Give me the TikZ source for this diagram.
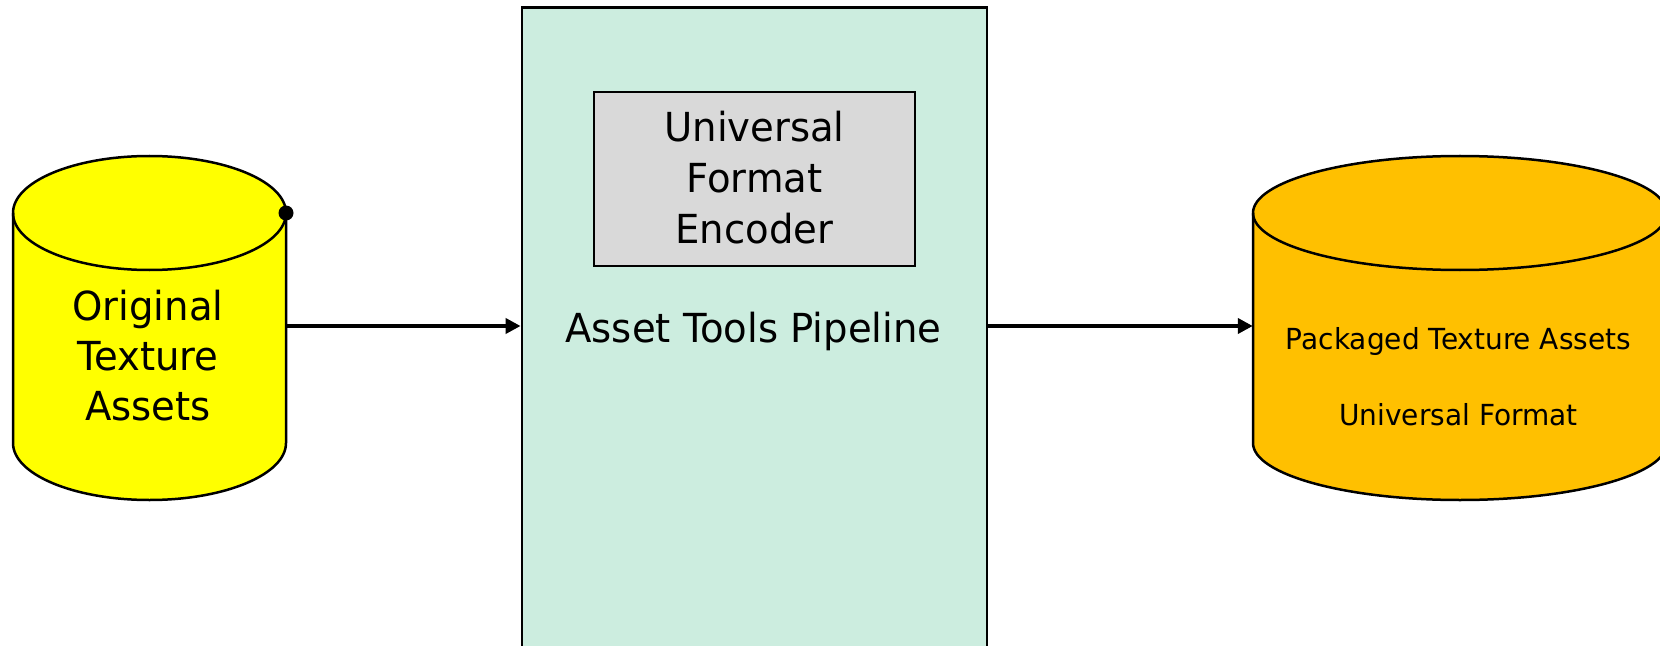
\documentclass[tikz,border=0pt]{standalone}
\usepackage{fontspec}
\setmainfont[FakeStretch=0.965]{DejaVu Sans}
\usetikzlibrary{arrows.meta}
\definecolor{cylyellow}{HTML}{FFFF00}
\definecolor{cylorange}{HTML}{FFC000}
\definecolor{pipemint}{HTML}{CCEDDF}
\definecolor{encgray}{HTML}{D9D9D9}
\begin{document}
\begin{tikzpicture}[x=1bp,y=1bp,
  bigtext/.style={font=\fontsize{40bp}{50bp}\selectfont, inner sep=0pt, anchor=base},
  smalltext/.style={font=\fontsize{29bp}{36bp}\selectfont, inner sep=0pt, anchor=base},
  outline/.style={draw=black, line width=2.5bp},
  cylnode/.style={inner sep=0pt, minimum width=#1, minimum height=342bp},
  flow/.style={line width=4.8bp, -{Triangle[length=15bp,width=15bp]}},
  dotmark/.style={circle, fill=black, inner sep=0pt, minimum size=15bp}]
\useasboundingbox (0,0) rectangle (1660,-646);
\clip (0,0) rectangle (1660,-646);

% left cylinder
\node[cylnode=273bp] (orig) at (149.5,-326) {};
\draw[outline, fill=cylyellow] (13,-213) -- (13,-443)
  arc[start angle=180, end angle=360, x radius=136.5, y radius=57] -- (286,-213)
  arc[start angle=0, end angle=180, x radius=136.5, y radius=57] -- cycle;
\draw[outline] (13,-213) arc[start angle=180, end angle=360, x radius=136.5, y radius=57];

% right cylinder
\node[cylnode=414bp] (pkg) at (1460,-326) {};
\draw[outline, fill=cylorange] (1253,-213) -- (1253,-443)
  arc[start angle=180, end angle=360, x radius=207, y radius=57] -- (1667,-213)
  arc[start angle=0, end angle=180, x radius=207, y radius=57] -- cycle;
\draw[outline] (1253,-213) arc[start angle=180, end angle=360, x radius=207, y radius=57];

% pipeline box
\node[outline, line width=2.8bp, fill=pipemint, inner sep=0pt, minimum width=465bp, minimum height=692bp] (pipe) at (754.5,-353.5) {};
\node[outline, fill=encgray, inner sep=0pt, minimum width=321bp, minimum height=174bp] (enc) at (754.5,-179) {};

% connectors
\draw[flow] (orig.east) -- (orig.east -| pipe.west);
\draw[flow] (pipe.east |- pkg.west) -- (pkg.west);
\node[dotmark] (dot) at (286,-213) {};

% texts
\node[bigtext] (o1) at (148,-320) {Original};
\node[bigtext] (o2) at (148,-370) {Texture};
\node[bigtext] (o3) at (148,-420) {Assets};
\node[bigtext] (e1) at (754.5,-142) {Universal};
\node[bigtext] (e2) at (754.5,-193) {Format};
\node[bigtext] (e3) at (754.5,-244) {Encoder};
\node[bigtext] (pl) at (753.5,-342) {Asset Tools Pipeline};
\node[smalltext] (p1) at (1458.5,-349) {Packaged Texture Assets};
\node[smalltext] (p2) at (1458.5,-425) {Universal Format};
\end{tikzpicture}
\end{document}
